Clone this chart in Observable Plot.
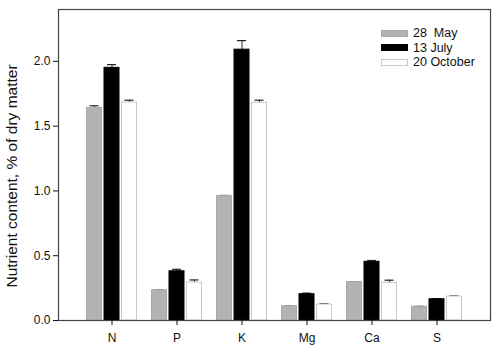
<!DOCTYPE html>
<html>
<head>
<meta charset="utf-8">
<script src="https://cdn.jsdelivr.net/npm/d3@7"></script>
<script src="https://cdn.jsdelivr.net/npm/@observablehq/plot@0.6"></script>
<style>
  html, body { margin: 0; padding: 0; background: #fff; }
  #wrap { position: relative; width: 500px; height: 353px; font-family: "Liberation Sans", Arial, sans-serif; }
  #legend { position: absolute; left: 381px; top: 26px; font-size: 12.5px; color: #111; }
  .row { display: flex; align-items: center; height: 14.6px; }
  .sw { width: 27px; height: 7px; box-sizing: border-box; margin-right: 5px; }
</style>
</head>
<body>
<div id="wrap"></div>
<script>
const nutrients = ["N", "P", "K", "Mg", "Ca", "S"];
const dates = ["28  May", "13 July", "20 October"];
const may = [1.641, 0.234, 0.96, 0.110, 0.296, 0.106];
const mayErr = [0.016, 0.003, 0.005, 0.003, 0.003, 0.003];
const july = [1.95, 0.38, 2.09, 0.203, 0.453, 0.164];
const julyErr = [0.025, 0.015, 0.07, 0.008, 0.01, 0.004];
const october = [1.682, 0.293, 1.68, 0.123, 0.291, 0.185];
const octoberErr = [0.018, 0.02, 0.02, 0.006, 0.02, 0.005];
const yTicks = [0, 0.5, 1, 1.5, 2];
const yLabel = "Nutrient content, % of dry matter";

const seriesValues = [may, july, october];
const seriesErrors = [mayErr, julyErr, octoberErr];
const fills = ["#b3b3b3", "#000000", "#ffffff"];
const strokes = ["#a8a8a8", "#000000", "#c8c8c8"];
const offsets = [-17.5, 0, 17.5];

const rows = dates.map((d, s) => nutrients.map((n, i) => ({
  nutrient: n, date: d, value: seriesValues[s][i], err: seriesErrors[s][i]
})));

const marks = [];
rows.forEach((data, s) => {
  marks.push(Plot.ruleX(data, {x: "nutrient", y1: "value", y2: d => d.value + d.err, dx: offsets[s], stroke: "#222", strokeWidth: 1}));
  marks.push(Plot.tickY(data, {x: "nutrient", y: d => d.value + d.err, dx: offsets[s], stroke: "#222", strokeWidth: 1.2, insetLeft: 3, insetRight: 3}));
  marks.push(Plot.barY(data, {x: "nutrient", y: "value", dx: offsets[s], fill: fills[s], stroke: strokes[s], strokeWidth: 1}));
});
marks.push(Plot.frame({stroke: "#444", strokeWidth: 1.2}));
marks.push(Plot.axisY({ticks: yTicks, tickFormat: d3.format(".1f"), tickSize: 5, tickPadding: 3, fontSize: 12, label: null}));
marks.push(Plot.axisX({tickSize: 5, tickPadding: 8, fontSize: 12, label: null}));
marks.push(Plot.text([yLabel], {frameAnchor: "left", dx: -46, dy: 11, rotate: -90, textAnchor: "middle", fontSize: 15.5, text: d => d}));

const chart = Plot.plot({
  width: 500,
  height: 353,
  marginLeft: 58,
  marginRight: 10,
  marginTop: 9,
  marginBottom: 33,
  style: {fontFamily: "'Liberation Sans', Arial, sans-serif", color: "#111", background: "#fff"},
  x: {domain: nutrients, paddingInner: 0.77, paddingOuter: 0.698, label: null},
  y: {domain: [0, 2.4], label: null},
  marks
});
const wrap = document.getElementById("wrap");
wrap.appendChild(chart);

const legend = document.createElement("div");
legend.id = "legend";
dates.forEach((d, s) => {
  const row = document.createElement("div");
  row.className = "row";
  const sw = document.createElement("div");
  sw.className = "sw";
  sw.style.background = fills[s];
  sw.style.border = "1px solid " + strokes[s];
  const t = document.createElement("span");
  t.textContent = d;
  t.style.whiteSpace = "pre";
  row.appendChild(sw);
  row.appendChild(t);
  legend.appendChild(row);
});
wrap.appendChild(legend);
</script>
</body>
</html>
